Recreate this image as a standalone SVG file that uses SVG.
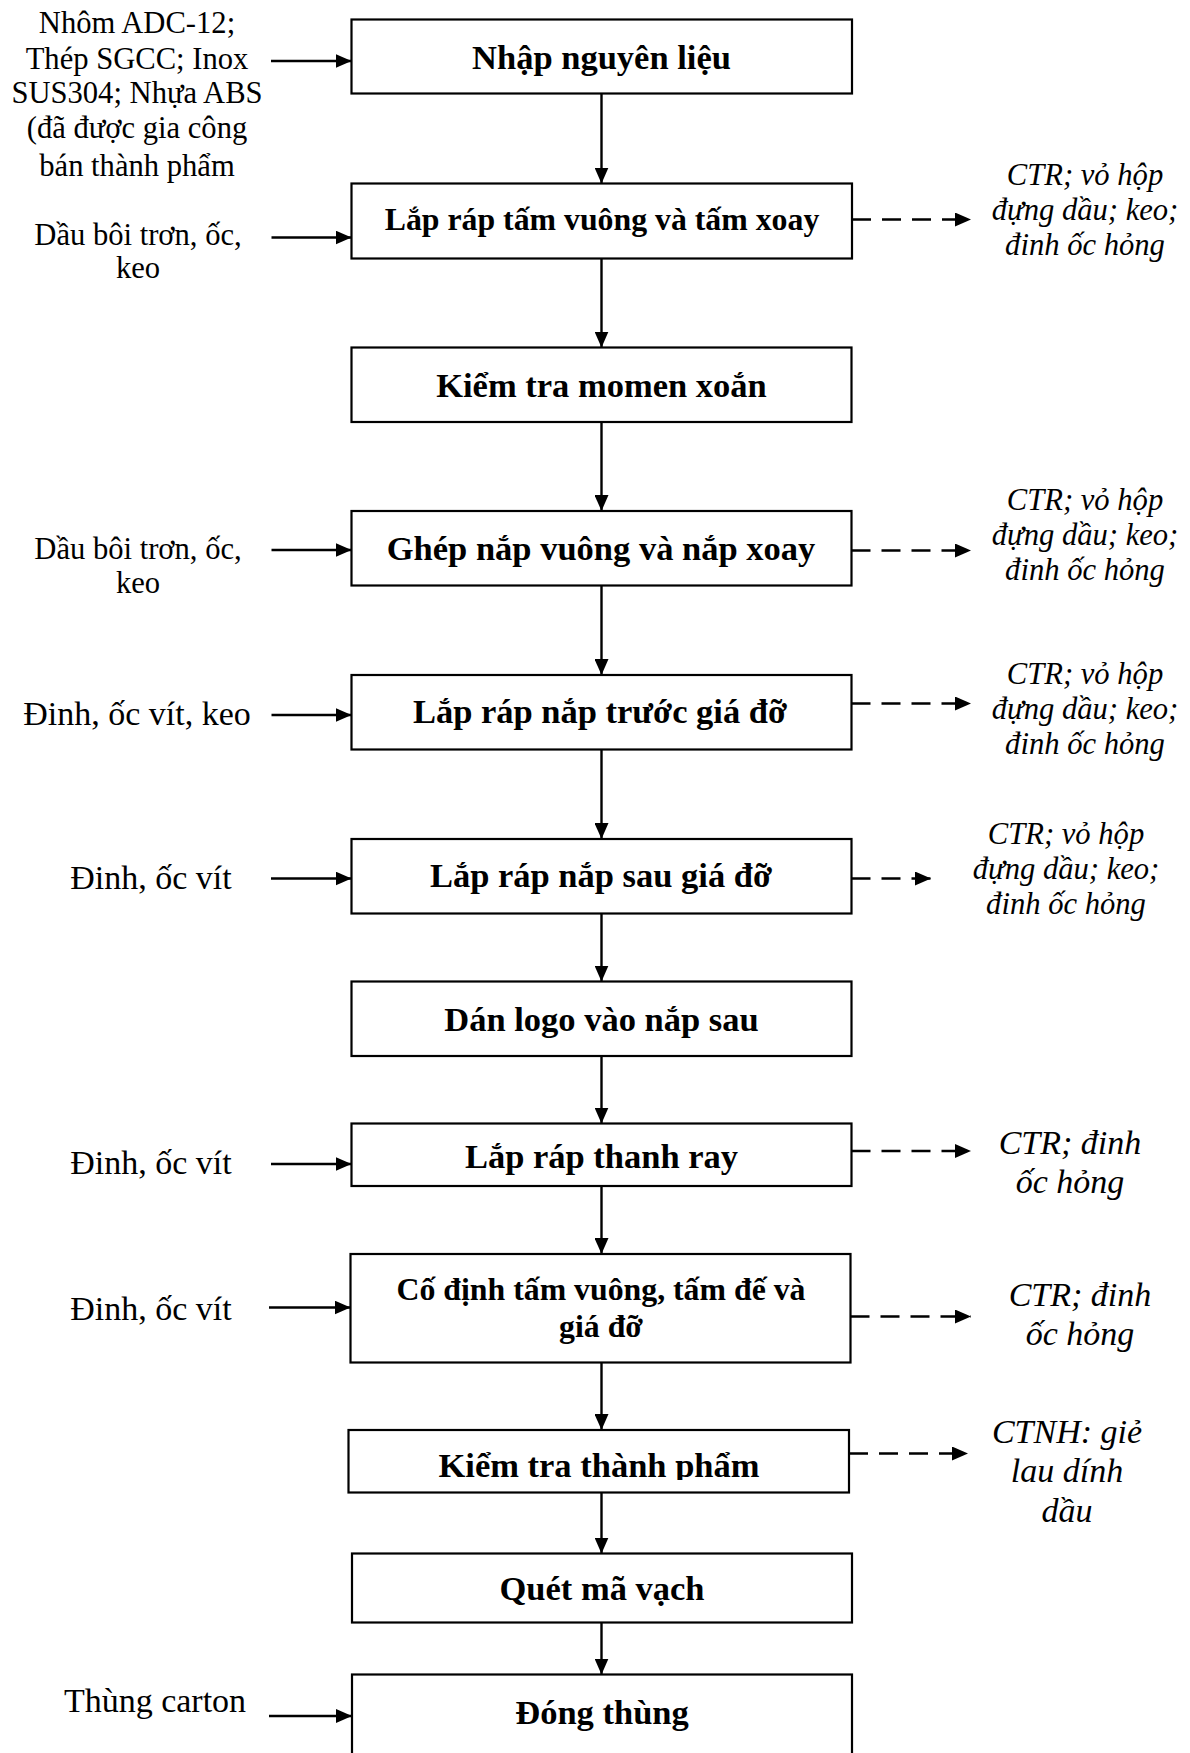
<svg xmlns="http://www.w3.org/2000/svg" width="1190" height="1753" viewBox="0 0 1190 1753">
  <style>
    .box { fill: #ffffff; stroke: #000000; stroke-width: 2.2; }
    .step { font-family: "Liberation Serif", "Times New Roman", serif; font-weight: bold; font-size: 34.5px; fill: #000; text-anchor: middle; }
    .input { font-family: "Liberation Serif", "Times New Roman", serif; font-size: 34px; fill: #000; text-anchor: middle; }
    .input-s { font-family: "Liberation Serif", "Times New Roman", serif; font-size: 30.6px; fill: #000; text-anchor: middle; }
    .waste { font-family: "Liberation Serif", "Times New Roman", serif; font-style: italic; font-size: 30.6px; fill: #000; text-anchor: middle; }
    .waste-l { font-family: "Liberation Serif", "Times New Roman", serif; font-style: italic; font-size: 34px; fill: #000; text-anchor: middle; }
    .flow { stroke: #000; stroke-width: 2.4; fill: none; marker-end: url(#head); }
    .out { stroke: #000; stroke-width: 2.4; fill: none; stroke-dasharray: 19 11; marker-end: url(#head); }
  </style>
  <defs>
    <marker id="head" viewBox="0 0 16 14" refX="16" refY="7" markerWidth="16" markerHeight="14" markerUnits="userSpaceOnUse" orient="auto">
      <path d="M0,0 L16,7 L0,14 Z" fill="#000"/>
    </marker>
    <clipPath id="clip-kttp">
      <rect x="349" y="1431" width="500" height="49"/>
    </clipPath>
  </defs>
  <rect width="1190" height="1753" fill="#ffffff"/>

  <!-- process steps -->
  <g id="n-nhap">
    <rect class="box" x="351.5" y="19.5" width="500.5" height="74"/>
    <text class="step" x="601.5" y="69">Nhập nguyên liệu</text>
  </g>
  <g id="n-laprap-tam">
    <rect class="box" x="351.5" y="183.5" width="500.5" height="75"/>
    <text class="step" x="602" y="230" style="font-size:31.8px">Lắp ráp tấm vuông và tấm xoay</text>
  </g>
  <g id="n-momen">
    <rect class="box" x="351.5" y="347.5" width="500" height="74.5"/>
    <text class="step" x="601.5" y="396.5">Kiểm tra momen xoắn</text>
  </g>
  <g id="n-ghep-nap">
    <rect class="box" x="351.5" y="511" width="500" height="74.5"/>
    <text class="step" x="601" y="560">Ghép nắp vuông và nắp xoay</text>
  </g>
  <g id="n-nap-truoc">
    <rect class="box" x="351.5" y="675" width="500" height="74.5"/>
    <text class="step" x="600" y="723">Lắp ráp nắp trước giá đỡ</text>
  </g>
  <g id="n-nap-sau">
    <rect class="box" x="351.5" y="839" width="500" height="74.5"/>
    <text class="step" x="601" y="886.5">Lắp ráp nắp sau giá đỡ</text>
  </g>
  <g id="n-logo">
    <rect class="box" x="351.5" y="981.5" width="500" height="74.5"/>
    <text class="step" x="601.5" y="1030.5">Dán logo vào nắp sau</text>
  </g>
  <g id="n-thanh-ray">
    <rect class="box" x="351.5" y="1123.5" width="500" height="62.5"/>
    <text class="step" x="601.5" y="1168">Lắp ráp thanh ray</text>
  </g>
  <g id="n-co-dinh">
    <rect class="box" x="350.5" y="1254" width="500" height="108.5"/>
    <text class="step" x="601" y="1300" style="font-size:31.8px">Cố định tấm vuông, tấm đế và</text>
    <text class="step" x="601" y="1336.5" style="font-size:31.8px">giá đỡ</text>
  </g>
  <g id="n-kiem-tra-tp">
    <rect class="box" x="348.5" y="1430" width="500.5" height="62.5"/>
    <text class="step" x="599" y="1476.5" clip-path="url(#clip-kttp)">Kiểm tra thành phẩm</text>
  </g>
  <g id="n-quet-ma">
    <rect class="box" x="352" y="1553.5" width="500" height="69"/>
    <text class="step" x="602" y="1600">Quét mã vạch</text>
  </g>
  <g id="n-dong-thung">
    <rect class="box" x="352" y="1674.5" width="500" height="100"/>
    <text class="step" x="602" y="1723.5">Đóng thùng</text>
  </g>

  <!-- inputs on the left -->
  <g id="in-nguyen-lieu">
    <text class="input-s" x="137" y="33">Nhôm ADC-12;</text>
    <text class="input-s" x="137" y="68.5">Thép SGCC; Inox</text>
    <text class="input-s" x="137" y="102.5">SUS304; Nhựa ABS</text>
    <text class="input-s" x="137" y="138">(đã được gia công</text>
    <text class="input-s" x="137" y="175.5">bán thành phẩm</text>
  </g>
  <g id="in-dau-1">
    <text class="input-s" x="138" y="245">Dầu bôi trơn, ốc,</text>
    <text class="input-s" x="138" y="277.5">keo</text>
  </g>
  <g id="in-dau-2">
    <text class="input-s" x="138" y="558.5">Dầu bôi trơn, ốc,</text>
    <text class="input-s" x="138" y="592.5">keo</text>
  </g>
  <g id="in-dinh-keo">
    <text class="input" x="137" y="725">Đinh, ốc vít, keo</text>
  </g>
  <g id="in-dinh-1">
    <text class="input" x="151" y="888.5">Đinh, ốc vít</text>
  </g>
  <g id="in-dinh-2">
    <text class="input" x="151" y="1173.5">Đinh, ốc vít</text>
  </g>
  <g id="in-dinh-3">
    <text class="input" x="151" y="1320">Đinh, ốc vít</text>
  </g>
  <g id="in-carton">
    <text class="input" x="155" y="1712">Thùng carton</text>
  </g>

  <!-- wastes on the right -->
  <g id="out-1">
    <text class="waste" x="1085" y="185">CTR; vỏ hộp</text>
    <text class="waste" x="1085" y="220">đựng dầu; keo;</text>
    <text class="waste" x="1085" y="255">đinh ốc hỏng</text>
  </g>
  <g id="out-2">
    <text class="waste" x="1085" y="510">CTR; vỏ hộp</text>
    <text class="waste" x="1085" y="545">đựng dầu; keo;</text>
    <text class="waste" x="1085" y="580">đinh ốc hỏng</text>
  </g>
  <g id="out-3">
    <text class="waste" x="1085" y="683.5">CTR; vỏ hộp</text>
    <text class="waste" x="1085" y="718.5">đựng dầu; keo;</text>
    <text class="waste" x="1085" y="753.5">đinh ốc hỏng</text>
  </g>
  <g id="out-4">
    <text class="waste" x="1066" y="843.5">CTR; vỏ hộp</text>
    <text class="waste" x="1066" y="878.5">đựng dầu; keo;</text>
    <text class="waste" x="1066" y="913.5">đinh ốc hỏng</text>
  </g>
  <g id="out-5">
    <text class="waste-l" x="1070" y="1153.5">CTR; đinh</text>
    <text class="waste-l" x="1070" y="1193">ốc hỏng</text>
  </g>
  <g id="out-6">
    <text class="waste-l" x="1080" y="1306">CTR; đinh</text>
    <text class="waste-l" x="1080" y="1345">ốc hỏng</text>
  </g>
  <g id="out-7">
    <text class="waste-l" x="1067" y="1442.5">CTNH: giẻ</text>
    <text class="waste-l" x="1067" y="1481.5">lau dính</text>
    <text class="waste-l" x="1067" y="1521.5">dầu</text>
  </g>

  <!-- connectors -->
  <g id="connectors">
    <!-- main flow -->
    <line class="flow" x1="601.5" y1="93.5" x2="601.5" y2="183.5"/>
    <line class="flow" x1="601.5" y1="258.5" x2="601.5" y2="347.5"/>
    <line class="flow" x1="601.5" y1="422" x2="601.5" y2="511"/>
    <line class="flow" x1="601.5" y1="585.5" x2="601.5" y2="675"/>
    <line class="flow" x1="601.5" y1="749.5" x2="601.5" y2="839"/>
    <line class="flow" x1="601.5" y1="913.5" x2="601.5" y2="981.5"/>
    <line class="flow" x1="601.5" y1="1056" x2="601.5" y2="1123.5"/>
    <line class="flow" x1="601.5" y1="1186" x2="601.5" y2="1254"/>
    <line class="flow" x1="601.5" y1="1362.5" x2="601.5" y2="1430"/>
    <line class="flow" x1="601.5" y1="1492.5" x2="601.5" y2="1553.5"/>
    <line class="flow" x1="601.5" y1="1622.5" x2="601.5" y2="1674.5"/>
    <!-- inputs -->
    <line class="flow" x1="271" y1="61" x2="351.5" y2="61"/>
    <line class="flow" x1="271.5" y1="237.5" x2="351.5" y2="237.5"/>
    <line class="flow" x1="271.5" y1="550" x2="351.5" y2="550"/>
    <line class="flow" x1="271.5" y1="715" x2="351.5" y2="715"/>
    <line class="flow" x1="271" y1="878.5" x2="351.5" y2="878.5"/>
    <line class="flow" x1="271" y1="1164" x2="351.5" y2="1164"/>
    <line class="flow" x1="269" y1="1307.5" x2="350.5" y2="1307.5"/>
    <line class="flow" x1="269" y1="1716" x2="352" y2="1716"/>
    <!-- wastes -->
    <line class="out" x1="852" y1="219.5" x2="971" y2="219.5"/>
    <line class="out" x1="851.5" y1="550.5" x2="971" y2="550.5"/>
    <line class="out" x1="851.5" y1="703.5" x2="971" y2="703.5"/>
    <line class="out" x1="851.5" y1="878.5" x2="931" y2="878.5"/>
    <line class="out" x1="851.5" y1="1151" x2="971" y2="1151"/>
    <line class="out" x1="850.5" y1="1316.5" x2="971" y2="1316.5"/>
    <line class="out" x1="849" y1="1453.5" x2="968" y2="1453.5"/>
  </g>
</svg>
